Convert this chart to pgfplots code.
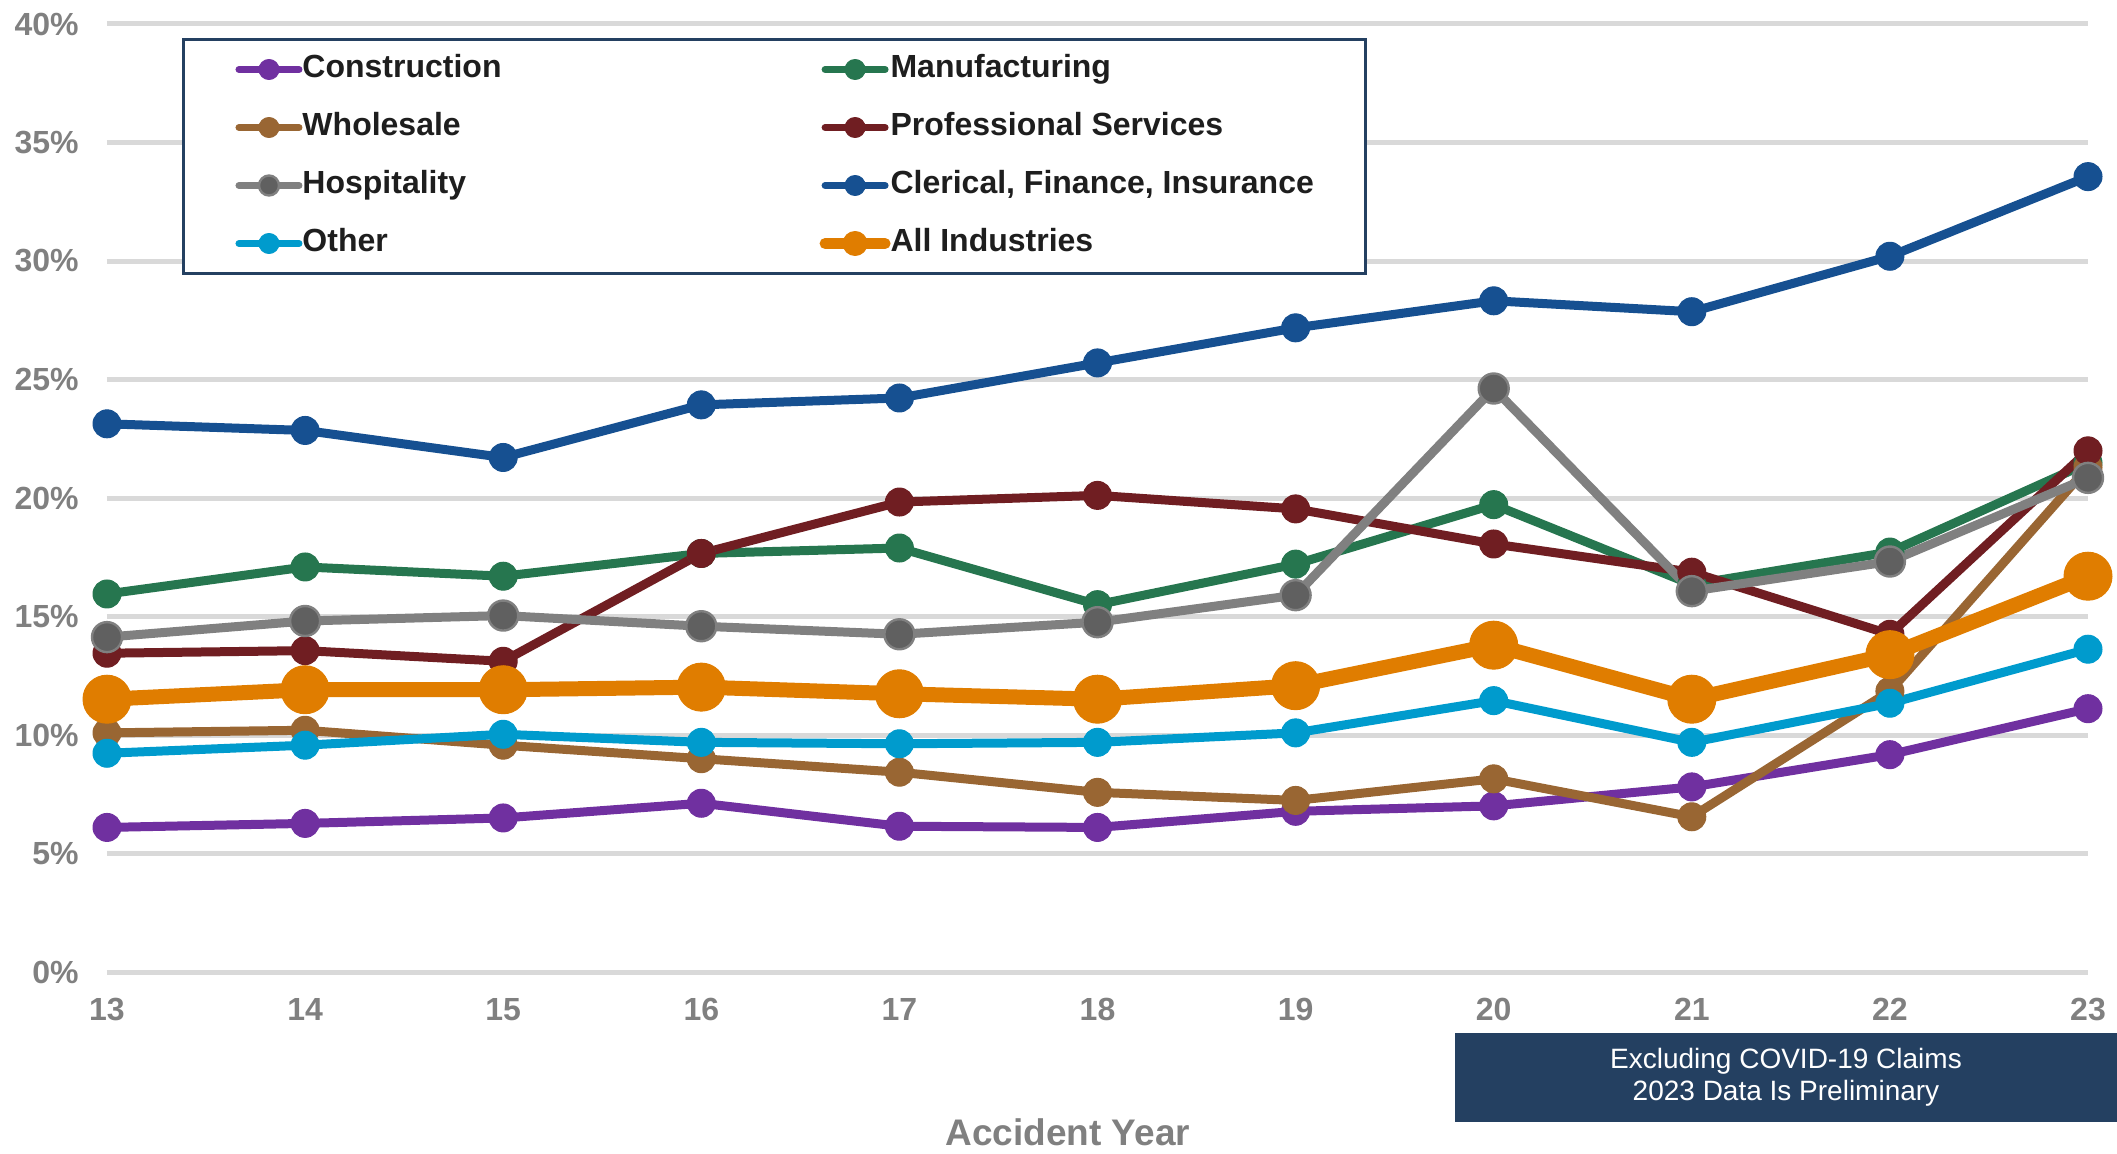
\documentclass[border=0pt]{standalone}
\usepackage{pgfplots}
\pgfplotsset{compat=1.18}
\usepackage{fontspec}
\setmainfont{Liberation Sans}
\definecolor{constr}{RGB}{112,48,160}
\definecolor{manuf}{RGB}{38,118,79}
\definecolor{whole}{RGB}{153,102,51}
\definecolor{prof}{RGB}{112,30,34}
\definecolor{hospline}{RGB}{128,128,128}
\definecolor{hospmark}{RGB}{96,96,96}
\definecolor{cleric}{RGB}{22,80,145}
\definecolor{other}{RGB}{0,155,205}
\definecolor{allind}{RGB}{224,125,0}
\definecolor{navy}{RGB}{36,64,97}
\definecolor{gridgray}{RGB}{217,217,217}
\definecolor{tickgray}{RGB}{128,128,128}
\definecolor{legtext}{RGB}{30,30,30}
\begin{document}
\begin{tikzpicture}
\useasboundingbox (-53.5pt,-90.5pt) rectangle (1005pt,486pt);
\begin{axis}[
  at={(0,0)}, anchor=south west,
  scale only axis, width=990.5pt, height=474pt,
  xmin=13, xmax=23, ymin=0, ymax=40,
  clip=false,
  axis line style={draw=none},
  major tick length=0pt,
  xtick={13,...,23},
  ytick={0,5,...,40},
  yticklabels={0\%,5\%,10\%,15\%,20\%,25\%,30\%,35\%,40\%},
  ymajorgrids, grid style={draw=gridgray, line width=2.5pt},
  tick label style={font=\fontsize{16}{19}\selectfont\bfseries, text=tickgray, inner sep=0pt},
  yticklabel style={xshift=-14pt},
  xticklabel style={yshift=-13pt},
  /pgf/number format/assume math mode=true,
  xlabel={Accident Year},
  xlabel style={at={(axis description cs:0.485,0)}, anchor=base, yshift=-86.5pt, font=\fontsize{18.5}{22}\selectfont\bfseries, text=tickgray},
  legend columns=2,
  legend cell align=left,
  legend style={at={(rel axis cs:0.03786,0.98523)}, anchor=north west, draw=navy, line width=1.5pt, fill=white,
    font=\fontsize{16}{19}\selectfont\bfseries, text=legtext, inner xsep=26pt, inner ysep=7pt, row sep=13pt,
    nodes={inner sep=0pt, text height=12pt, text depth=4pt},
    /tikz/column 2/.style={column sep=159pt}},
  legend image code/.code={\draw[mark repeat=2,mark phase=2,#1] plot coordinates {(0pt,0pt) (15pt,0pt) (30pt,0pt)};},
  every axis plot/.append style={line width=4.5pt, mark=*, mark size=7pt, line join=round, line cap=round},
]
\addplot[color=constr, mark options={line width=0.5pt}, legend image post style={line width=3.5pt, mark size=5pt}] coordinates {(13,6.10)(14,6.27)(15,6.50)(16,7.12)(17,6.15)(18,6.10)(19,6.78)(20,7.01)(21,7.81)(22,9.17)(23,11.11)};
\addlegendentry{Construction}
\addplot[color=manuf, mark options={line width=0.5pt}, legend image post style={line width=3.5pt, mark size=5pt}] coordinates {(13,15.95)(14,17.09)(15,16.70)(16,17.66)(17,17.89)(18,15.50)(19,17.21)(20,19.72)(21,16.35)(22,17.72)(23,21.48)};
\addlegendentry{Manufacturing}
\addplot[color=whole, mark options={line width=0.5pt}, legend image post style={line width=3.5pt, mark size=5pt}] coordinates {(13,10.09)(14,10.20)(15,9.57)(16,9.00)(17,8.43)(18,7.58)(19,7.24)(20,8.15)(21,6.55)(22,11.85)(23,21.3)};
\addlegendentry{Wholesale}
\addplot[color=prof, mark options={line width=0.5pt}, legend image post style={line width=3.5pt, mark size=5pt}] coordinates {(13,13.45)(14,13.56)(15,13.11)(16,17.66)(17,19.83)(18,20.11)(19,19.54)(20,18.06)(21,16.87)(22,14.25)(23,21.99)};
\addlegendentry{Professional Services}
\addplot[color=hospline, mark size=7.5pt, mark options={fill=hospmark, draw=hospline, line width=1.2pt}, legend image post style={line width=3.5pt, mark size=5pt}] coordinates {(13,14.13)(14,14.81)(15,15.04)(16,14.59)(17,14.25)(18,14.76)(19,15.90)(20,24.62)(21,16.07)(22,17.32)(23,20.85)};
\addlegendentry{Hospitality}
\addplot[color=cleric, mark options={line width=0.5pt}, legend image post style={line width=3.5pt, mark size=5pt}] coordinates {(13,23.13)(14,22.85)(15,21.71)(16,23.93)(17,24.22)(18,25.70)(19,27.18)(20,28.32)(21,27.86)(22,30.2)(23,33.56)};
\addlegendentry{Clerical, Finance, Insurance}
\addplot[color=other, mark options={line width=0.5pt}, legend image post style={line width=3.5pt, mark size=5pt}] coordinates {(13,9.23)(14,9.57)(15,10.03)(16,9.69)(17,9.63)(18,9.69)(19,10.09)(20,11.45)(21,9.69)(22,11.34)(23,13.62)};
\addlegendentry{Other}
\addplot[color=allind, line width=7.5pt, mark size=12pt, mark options={line width=0.5pt}, legend image post style={line width=5.5pt, mark size=6pt}] coordinates {(13,11.51)(14,11.91)(15,11.91)(16,12.02)(17,11.74)(18,11.51)(19,12.08)(20,13.79)(21,11.51)(22,13.39)(23,16.70)};
\addlegendentry{All Industries}
\end{axis}
\fill[navy] (674pt,-30.5pt) rectangle (1005pt,-75pt);
\node[text=white, font=\fontsize{14}{16}\selectfont, align=center] at (839.5pt,-52.75pt) {Excluding COVID-19 Claims\\2023 Data Is Preliminary};
\end{tikzpicture}
\end{document}
